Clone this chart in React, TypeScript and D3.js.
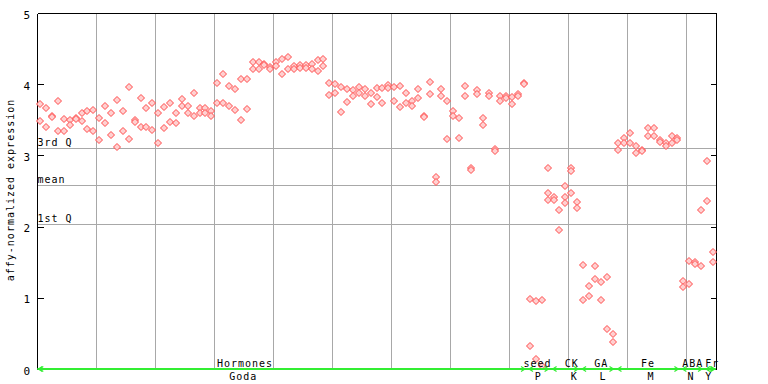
import React from "react";
import * as d3 from "d3";

// ---- data ----
// expression values per sample (index 0..114); some samples have 3 replicates
const expression: number[][] = [
  [3.72, 3.48], [3.66, 3.4], [3.56, 3.54], [3.76, 3.34], [3.51, 3.34],
  [3.5, 3.42], [3.52, 3.51], [3.59, 3.48], [3.62, 3.37], [3.64, 3.34],
  [3.53, 3.22], [3.7, 3.46], [3.59, 3.29], [3.78, 3.12], [3.62, 3.34],
  [3.96, 3.23], [3.5, 3.47], [3.8, 3.4], [3.66, 3.4], [3.73, 3.36],
  [3.59, 3.17], [3.68, 3.38], [3.74, 3.47], [3.6, 3.45], [3.79, 3.69],
  [3.7, 3.6], [3.87, 3.56], [3.67, 3.59], [3.66, 3.59], [3.62, 3.56],
  [4.02, 3.74], [4.15, 3.74], [3.98, 3.7], [3.93, 3.64], [4.07, 3.5],
  [4.07, 3.65], [4.31, 4.21], [4.31, 4.21], [4.29, 4.27], [4.24, 4.21],
  [4.31, 4.26], [4.36, 4.15], [4.38, 4.21], [4.26, 4.22], [4.27, 4.23],
  [4.27, 4.23], [4.28, 4.21], [4.34, 4.18], [4.36, 4.26], [4.01, 3.85],
  [4.0, 3.87], [3.96, 3.61], [3.93, 3.75], [3.92, 3.83], [3.96, 3.87],
  [3.93, 3.83], [3.87, 3.72], [3.94, 3.82], [3.94, 3.74], [3.99, 3.94],
  [3.96, 3.76], [3.98, 3.68], [3.87, 3.74], [3.77, 3.69], [3.93, 3.8],
  [3.56, 3.54], [4.03, 3.86], [2.7, 2.62], [3.93, 3.84], [3.76, 3.23],
  [3.63, 3.56], [3.52, 3.25], [3.97, 3.84], [2.82, 2.79], [3.92, 3.86],
  [3.53, 3.42], [3.87, 3.84], [3.09, 3.06], [3.83, 3.76], [3.83, 3.81],
  [3.82, 3.72], [3.86, 3.83], [4.01, 4.0], [0.98, 0.32], [0.955, 0.14],
  [0.97, 0.04], [2.82, 2.47, 2.37], [2.41, 2.37], [2.24, 1.95], [2.57, 2.42, 2.33],
  [2.82, 2.78, 2.47], [2.35, 2.26], [1.46, 0.97], [1.16, 1.03], [1.44, 1.27],
  [1.22, 0.97], [1.29, 0.56], [0.49, 0.38], [3.17, 3.07], [3.25, 3.18],
  [3.32, 3.17], [3.13, 3.04], [3.08, 3.06], [3.38, 3.27], [3.38, 3.27],
  [3.21, 3.19], [3.18, 3.13], [3.27, 3.18], [3.25, 3.22], [1.24, 1.15],
  [1.52, 1.19], [1.5, 1.48], [2.24, 1.45], [2.92, 2.36], [1.64, 1.5],
];

const yTicks = [0, 1, 2, 3, 4, 5];

const statNames = ["3rd Q", "mean", "1st Q"];
const statValues = [3.1, 2.58, 2.03];

// upper row of groups: name, first sample, last sample, label position (sample units)
const groupNames = ["Hormones", "seed", "CK", "GA", "Fe", "ABA", "Fr"];
const groupStart = [0, 83, 87, 92, 98, 109, 113];
const groupEnd = [82, 86, 91, 97, 108, 112, 114];
const groupLabelAt = [35.2, 84.8, 90.6, 95.6, 103.5, 111.1, 114.4];

// lower row (series / sub-codes)
const seriesNames = ["Goda", "P", "K", "L", "M", "N", "Y"];
const seriesLabelAt = [34.9, 84.9, 91.0, 95.9, 104.0, 110.8, 113.8];
const seriesStart = [0];
const seriesEnd = [114];

const N_SAMPLES = expression.length;

export default function App() {
  const W = 768;
  const H = 384;
  const x = d3.scaleLinear().domain([0, N_SAMPLES]).range([37.3, 715.8]);
  const y = d3.scaleLinear().domain([0, 5]).range([369, 13]);
  const px = (v: number) => Math.round(v) + 0.5;

  const left = px(x(0));
  const right = px(x(N_SAMPLES));
  const top = px(y(5));
  const bottom = px(y(0));

  const font = "'DejaVu Sans Mono', 'Liberation Mono', monospace";
  const textStyle = { fontFamily: font, fontSize: 10, letterSpacing: 1 } as const;

  const gridXs = d3.range(10, N_SAMPLES, 10);

  const diamond = "M0,-3.5L3.5,0L0,3.5L-3.5,0Z";

  const green = "#33ee33";

  const arrow = (x0: number, x1: number, key: string) => {
    const yy = bottom - 0.5;
    return (
      <g key={key} stroke={green} fill="none">
        <line x1={x0} x2={x1} y1={yy} y2={yy} strokeWidth={2} />
        <path d={`M${x0 + 5},${yy - 2.5}L${x0 + 1},${yy}L${x0 + 5},${yy + 2.5}`} strokeWidth={1.2} />
        <path d={`M${x1 - 5},${yy - 2.5}L${x1 - 1},${yy}L${x1 - 5},${yy + 2.5}`} strokeWidth={1.2} />
      </g>
    );
  };

  const points: { i: number; v: number }[] = [];
  expression.forEach((vals, i) => vals.forEach((v) => points.push({ i, v })));

  return (
    <svg
      width={W}
      height={H}
      style={{ position: "absolute", left: 0, top: 0, background: "#fff" }}
    >
      <rect x={0} y={0} width={W} height={H} fill="#fff" />
      {/* vertical grid */}
      {gridXs.map((g) => (
        <line key={"g" + g} x1={px(x(g))} x2={px(x(g))} y1={top} y2={bottom} stroke="#a8a8a8" strokeWidth={1} />
      ))}
      {/* stat lines */}
      {statValues.map((v, k) => (
        <g key={"s" + k}>
          <line x1={left} x2={right} y1={px(y(v))} y2={px(y(v))} stroke="#a8a8a8" strokeWidth={1} />
          <text x={left} y={px(y(v)) - 2.5} {...textStyle} fill="#000">
            {statNames[k]}
          </text>
        </g>
      ))}
      {/* frame */}
      <g stroke="#000" strokeWidth={1} shapeRendering="crispEdges">
        <line x1={left} x2={left} y1={top} y2={bottom} />
        <line x1={right} x2={right} y1={top} y2={bottom} />
        <line x1={left} x2={right} y1={top} y2={top} />
        <line x1={left} x2={right} y1={bottom} y2={bottom} />
        {yTicks.map((t) => (
          <g key={"t" + t}>
            <line x1={left} x2={left + 6} y1={px(y(t))} y2={px(y(t))} />
            <line x1={right - 6} x2={right} y1={px(y(t))} y2={px(y(t))} />
          </g>
        ))}
      </g>
      {yTicks.map((t) => (
        <text key={"tl" + t} x={30} y={y(t) + 5.5} textAnchor="end" {...textStyle} letterSpacing={0} fontSize={11} fill="#000">
          {t}
        </text>
      ))}
      <text
        transform={`translate(14,190) rotate(-90)`}
        textAnchor="middle"
        {...textStyle}
        fill="#000"
      >
        affy-normalized expression
      </text>
      {/* points */}
      {points.map((p, k) => (
        <path
          key={"p" + k}
          d={diamond}
          transform={`translate(${Math.round(x(p.i + 0.5))},${Math.round(y(p.v))})`}
          fill="#ffd0d0"
          stroke="#ff4a4a"
          strokeWidth={1}
        />
      ))}
      {/* group arrows */}
      {seriesStart.map((s, k) => arrow(x(s), x(seriesEnd[k] + 1), "sa" + k))}
      {groupStart.map((s, k) => arrow(x(s) + 1, x(groupEnd[k] + 1) - 1, "ga" + k))}
      {groupNames.map((n, k) => (
        <text key={"gn" + k} x={x(groupLabelAt[k])} y={366.5} textAnchor="middle" {...textStyle} fill="#000">
          {n}
        </text>
      ))}
      {seriesNames.map((n, k) => (
        <text key={"sn" + k} x={x(seriesLabelAt[k])} y={380} textAnchor="middle" {...textStyle} fill="#000">
          {n}
        </text>
      ))}
    </svg>
  );
}
